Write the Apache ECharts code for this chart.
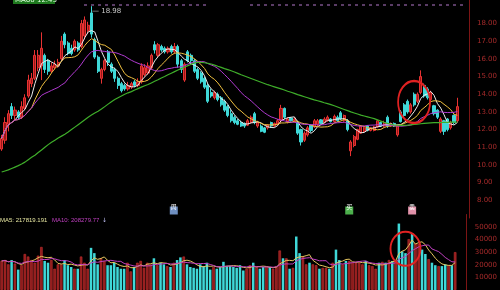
<!DOCTYPE html>
<html><head><meta charset="utf-8">
<script src="https://cdn.jsdelivr.net/npm/echarts@6.0.0/dist/echarts.min.js"></script>
<style>html,body{margin:0;padding:0;background:#000;overflow:hidden}#c{width:500px;height:290px}</style>
</head><body><div id="c"></div>
<script>
const opens = [
10.9,11.4,12.3,13.3,12.8,13.0,12.7,13.2,13.9,14.6,
14.9,15.5,15.6,16.2,15.9,15.3,15.5,15.6,16.0,17.4,
16.9,16.6,16.5,16.9,16.7,17.3,17.6,18.6,17.1,16.1,
14.9,15.4,16.4,15.7,15.4,14.9,14.6,14.5,14.3,14.4,
14.7,14.5,14.7,15.1,15.2,15.5,16.8,16.2,16.7,16.6,
16.4,16.7,16.4,16.7,15.9,14.8,16.4,16.2,15.9,15.4,
15.2,14.9,14.5,14.1,13.8,14.0,13.8,13.6,13.3,12.9,
12.7,12.5,12.4,12.35,12.25,12.4,12.9,12.2,12.2,12.1,
12.1,12.4,12.2,12.3,12.5,13.2,12.45,12.65,12.5,12.4,
12.0,11.4,11.7,12.25,12.15,12.3,12.55,12.4,12.5,12.6,
12.45,12.7,12.95,12.5,12.5,10.8,11.1,11.45,11.8,11.9,
12.2,11.95,11.95,12.15,12.4,12.2,12.7,12.2,12.35,11.7,
13.0,13.4,13.6,13.0,14.0,13.6,14.1,14.5,14.3,13.7,
13.35,13.1,11.9,12.5,12.6,12.1,12.8,12.5];
const closes = [
11.5,12.4,12.9,12.8,13.1,12.7,13.3,13.8,14.8,14.9,
16.2,16.2,16.6,15.4,15.3,15.6,15.7,15.8,17.0,16.8,
16.3,16.3,17.0,16.5,18.0,18.2,17.9,17.4,16.1,15.3,
15.4,15.9,15.8,15.3,14.9,14.5,14.2,14.3,14.5,14.6,
14.5,14.7,15.6,15.5,15.6,16.2,16.5,16.8,16.5,16.4,
16.6,16.4,16.7,15.7,15.4,15.7,15.9,15.9,15.3,14.9,
14.7,14.4,13.6,13.9,14.1,13.7,13.4,13.1,12.8,12.5,
12.4,12.3,12.2,12.2,12.5,12.7,12.4,12.4,11.9,11.85,
12.25,12.2,12.35,12.5,13.2,12.7,12.6,12.5,12.6,11.8,
11.3,11.8,12.1,11.95,12.5,12.5,12.35,12.6,12.7,12.45,
12.75,12.5,12.6,12.8,12.0,11.3,11.6,12.0,12.2,12.1,
11.95,12.1,12.15,12.5,12.2,12.4,12.2,12.35,12.2,12.2,
12.45,12.8,13.0,13.4,13.4,14.0,15.0,13.9,13.8,14.1,
12.9,12.7,12.6,11.9,12.0,12.4,12.4,13.3];
const lows = [
10.8,11.2,11.9,12.6,12.5,12.6,12.6,13.1,13.8,14.4,
14.8,15.3,14.8,15.2,15.1,15.2,15.4,15.5,15.9,16.6,
16.2,16.2,16.4,16.4,16.6,17.1,17.4,17.2,16.0,15.2,
14.6,15.3,15.6,15.2,14.7,14.3,14.1,14.2,14.2,14.3,
14.4,14.4,14.6,15.0,15.1,15.4,16.3,16.1,16.4,16.3,
16.3,16.3,16.3,15.5,15.2,14.7,15.8,15.7,15.2,14.8,
14.6,14.3,13.5,13.8,13.7,13.6,13.3,13.0,12.7,12.4,
12.3,12.25,12.15,12.1,12.2,12.35,12.3,12.1,11.85,11.8,
12.0,12.1,12.15,12.25,12.4,12.6,12.35,12.45,12.4,11.7,
11.1,11.3,11.6,11.85,12.1,12.2,12.3,12.35,12.45,12.4,
12.4,12.45,12.55,12.45,11.9,10.5,11.0,11.4,11.75,11.85,
11.9,11.9,11.9,12.1,12.15,12.15,12.1,12.15,12.15,11.6,
12.4,12.7,12.9,12.9,13.3,13.5,14.0,13.8,13.7,13.6,
12.8,12.6,11.8,11.7,11.9,12.0,12.3,12.4];
const highs = [
11.7,12.7,13.1,13.5,13.3,13.1,13.6,14.0,15.1,15.2,
16.5,16.5,17.5,16.3,16.0,15.8,15.9,16.0,17.3,17.5,
17.0,16.8,17.1,17.0,18.2,18.4,18.1,18.98,17.2,16.2,
15.5,16.0,16.5,15.8,15.5,15.0,14.7,14.6,14.7,14.7,
14.8,14.9,15.75,15.7,15.8,16.3,17.0,16.9,16.8,16.7,
16.7,16.8,16.9,16.8,16.0,15.8,16.5,16.3,16.0,15.5,
15.3,15.0,14.6,14.3,14.2,14.1,13.9,13.7,13.4,13.1,
12.8,12.6,12.5,12.4,12.6,12.8,13.0,12.5,12.3,12.15,
12.3,12.45,12.4,12.6,13.4,13.25,12.7,12.7,12.7,12.5,
12.05,11.9,12.2,12.3,12.6,12.6,12.6,12.7,12.8,12.65,
12.85,12.8,13.05,12.85,12.6,11.4,11.7,12.05,12.25,12.2,
12.25,12.15,12.2,12.55,12.45,12.5,12.8,12.4,12.4,12.3,
13.1,13.5,13.7,13.5,14.1,14.1,15.35,14.6,14.4,14.2,
13.4,13.15,12.7,12.55,12.65,12.5,12.85,13.8];
const ma60 = [
9.60,9.66,9.72,9.80,9.88,9.96,10.05,10.16,10.30,10.43,
10.55,10.70,10.85,11.00,11.15,11.28,11.40,11.52,11.63,11.74,
11.86,12.00,12.14,12.28,12.42,12.56,12.70,12.82,12.94,13.04,
13.16,13.30,13.44,13.58,13.70,13.80,13.90,14.00,14.08,14.15,
14.24,14.32,14.40,14.48,14.55,14.64,14.73,14.82,14.92,15.00,
15.10,15.19,15.28,15.37,15.45,15.54,15.62,15.70,15.77,15.80,
15.80,15.78,15.75,15.71,15.65,15.58,15.52,15.45,15.39,15.33,
15.26,15.18,15.10,15.03,14.96,14.89,14.82,14.75,14.68,14.61,
14.54,14.48,14.42,14.36,14.30,14.24,14.17,14.11,14.05,13.98,
13.92,13.86,13.80,13.74,13.68,13.63,13.58,13.52,13.47,13.41,
13.35,13.28,13.21,13.14,13.07,13.00,12.94,12.88,12.82,12.77,
12.72,12.67,12.62,12.55,12.48,12.41,12.35,12.30,12.27,12.25,
12.24,12.24,12.25,12.27,12.29,12.31,12.33,12.35,12.37,12.38,
12.39,12.40,12.40,12.41,12.41,12.42,12.42,12.43];
const volumes = [
23100,23800,20400,23800,21000,16200,19700,28600,26600,23800,
21700,27300,34200,23100,21700,23800,16900,20400,20400,23800,
19700,18300,16900,16900,26600,21700,16900,33500,29300,20400,
25200,23100,19700,19700,21700,18300,16900,16900,21700,14800,
18300,21700,23100,17600,21700,20400,25200,19700,21700,20400,
19000,18300,21700,23800,25900,26600,20400,18300,17600,16900,
20400,19000,21700,16200,18300,16900,18300,22400,19000,19000,
18300,17600,19700,15500,16900,19700,21700,18300,16900,18300,
18300,18300,16900,19000,31400,25200,25200,16900,17600,42500,
29300,26600,20400,21700,20400,19700,16900,17600,17600,16900,
21700,32100,23800,20400,23100,23100,21700,21700,21700,20400,
23100,19700,19000,16900,21700,22400,21700,23800,23100,23800,
52800,30700,29300,40400,45200,36900,36900,32100,28600,24500,
21700,19700,19000,19000,20400,19700,19700,30100];
const priceTicks = [8,9,10,11,12,13,14,15,16,17,18];
const volTicks = [10000,20000,30000,40000,50000];
const lastPrice = 12.41;
const peakPrice = 18.98;
const volLegend = ['MA5: 217819.191', 'MA10: 208279.77'];
const topLegend = ['MA60 12.43'];
const signalIdx = [52, 105, 124];

const N = closes.length;
const EXTRA = 3;
const categories = Array.from({length: N + EXTRA}, (_, i) => String(i + 1));
function ma(arr, n) {
  return arr.map((_, i) => {
    const s = Math.max(0, i - n + 1); let sum = 0;
    for (let k = s; k <= i; k++) sum += arr[k];
    return +(sum / (i - s + 1)).toFixed(3);
  });
}
const candleData = opens.map((o, i) => [o, closes[i], lows[i], highs[i]]);
const UP = '#e83232', UPFILL = '#9a1818', DOWN = '#3fd8d8';
const peakIdx = highs.indexOf(Math.max(...highs));
const volData = volumes.map((v, i) => ({
  value: v,
  itemStyle: closes[i] >= opens[i]
    ? {color: '#8e1c1c', borderColor: '#c83030', borderWidth: 0.6}
    : {color: DOWN}
}));
const axisRed = '#7c1515', labelRed = '#a52a2a';
const lab = {color: labelRed, fontSize: 7, fontFamily: 'DejaVu Sans', margin: 8};
const sigColors = ['#6f8fc0', '#4cb04c', '#e090a8'];
const sigText = ['周', '买', '卖'];

const chart = echarts.init(document.getElementById('c'), null, {renderer: 'canvas'});
chart.setOption({
  backgroundColor: '#000',
  animation: false,
  grid: [
    {left: 0, top: 0, width: 474, height: 218},
    {left: 0, top: 214.5, width: 474, height: 87}
  ],
  xAxis: [
    {type: 'category', gridIndex: 0, data: categories, boundaryGap: true,
     axisLine: {show: false}, axisTick: {show: false}, axisLabel: {show: false}, splitLine: {show: false}},
    {type: 'category', gridIndex: 1, data: categories, boundaryGap: true, position: 'top',
     axisLine: {show: true, lineStyle: {color: axisRed, width: 1}}, axisTick: {show: false},
     axisLabel: {show: false}, splitLine: {show: false}}
  ],
  yAxis: [
    {type: 'value', gridIndex: 0, position: 'right', min: 7, max: 19.33, interval: 1,
     axisLine: {show: true, lineStyle: {color: axisRed}}, axisTick: {show: false}, splitLine: {show: false},
     axisLabel: Object.assign({}, lab, {formatter: v => priceTicks.includes(v) ? v.toFixed(2) : ''})},
    {type: 'value', gridIndex: 1, position: 'right', min: 0, max: 60000, interval: 10000,
     axisLine: {show: true, lineStyle: {color: axisRed}}, axisTick: {show: false}, splitLine: {show: false},
     axisLabel: Object.assign({}, lab, {formatter: v => volTicks.includes(v) ? String(v) : ''})}
  ],
  series: [
    {type: 'candlestick', xAxisIndex: 0, yAxisIndex: 0, data: candleData, barWidth: 2.6,
     itemStyle: {color: UPFILL, color0: DOWN, borderColor: UP, borderColor0: DOWN, borderWidth: 1},
     markLine: {symbol: 'none', silent: true,
       data: [{yAxis: lastPrice}],
       lineStyle: {opacity: 0},
       label: {position: 'end', distance: 1, formatter: lastPrice.toFixed(2), color: '#fff',
               backgroundColor: '#1e1eff', padding: [2, 4, 1, 4], fontSize: 7, fontFamily: 'DejaVu Sans', offset: [0, -5]}},
     markPoint: {silent: true, data: [
       {coord: [peakIdx, peakPrice], symbol: 'rect', symbolSize: [1, 1],
        itemStyle: {color: 'rgba(0,0,0,0)'},
        label: {show: true, position: 'right', distance: 0, offset: [0, 5], formatter: '\u2014 ' + peakPrice.toFixed(2),
                color: '#c8c8c8', fontSize: 7, fontFamily: 'DejaVu Sans'}},
       {coord: [124, 13.56], symbol: 'circle', symbolSize: [32, 42],
        itemStyle: {color: 'rgba(0,0,0,0)', borderColor: '#e02222', borderWidth: 2},
        label: {show: false}}
     ]}},
    {type: 'line', name: 'MA5', data: ma(closes, 5), showSymbol: false, symbol: 'none',
     lineStyle: {color: '#eeeeee', width: 1}, z: 3},
    {type: 'line', name: 'MA10', data: ma(closes, 10), showSymbol: false, symbol: 'none',
     lineStyle: {color: '#f0c040', width: 1}, z: 3},
    {type: 'line', name: 'MA20', data: ma(closes, 20), showSymbol: false, symbol: 'none',
     lineStyle: {color: '#b03ad0', width: 1}, z: 3},
    {type: 'line', name: 'MA60', data: ma60, showSymbol: false, symbol: 'none',
     lineStyle: {color: '#3fae2a', width: 1.2}, z: 3},
    {type: 'bar', xAxisIndex: 1, yAxisIndex: 1, data: volData, barWidth: 2.5,
     markPoint: {silent: true, data: [
       {coord: [122, 32800], symbol: 'circle', symbolSize: [30, 34],
        itemStyle: {color: 'rgba(0,0,0,0)', borderColor: '#e02222', borderWidth: 2}, label: {show: false}}
     ].concat(signalIdx.map((idx, k) => ({
        coord: [idx, 60000], symbol: 'rect', symbolSize: [8, 8], symbolOffset: [0, -4],
        itemStyle: {color: sigColors[k]},
        label: {show: true, position: 'inside', offset: [0, -4], formatter: sigText[k], color: '#fff',
                fontSize: 6, fontFamily: 'Noto Sans CJK SC'}})))}},
    {type: 'line', xAxisIndex: 1, yAxisIndex: 1, data: ma(volumes, 5), showSymbol: false, symbol: 'none',
     lineStyle: {color: '#e8c860', width: 1}, z: 3},
    {type: 'line', xAxisIndex: 1, yAxisIndex: 1, data: ma(volumes, 10), showSymbol: false, symbol: 'none',
     lineStyle: {color: '#c040c0', width: 1}, z: 3}
  ],
  graphic: [
    {type: 'rect', left: 13, top: -4, shape: {width: 42, height: 8}, style: {fill: '#1f7a1f'}},
    {type: 'text', left: 15, top: -3, style: {text: topLegend[0], fill: '#e0ffe0', fontSize: 7, fontFamily: 'DejaVu Sans'}},
    {type: 'line', shape: {x1: 84, y1: 5, x2: 210, y2: 5}, style: {stroke: '#5a3c66', lineWidth: 2, lineDash: [3, 4]}},
    {type: 'line', shape: {x1: 250, y1: 5, x2: 465, y2: 5}, style: {stroke: '#5a3c66', lineWidth: 2, lineDash: [3, 4]}},
    {type: 'text', left: 0, top: 217, style: {text: volLegend[0], fill: '#e6e6a0', fontSize: 6, fontFamily: 'Liberation Sans'}},
    {type: 'text', left: 52, top: 217, style: {text: volLegend[1], fill: '#c040c0', fontSize: 6, fontFamily: 'Liberation Sans'}},
    {type: 'text', left: 102, top: 217, style: {text: '\u2193', fill: '#c8c8ff', fontSize: 6, fontFamily: 'DejaVu Sans'}}
  ]
});
</script></body></html>
